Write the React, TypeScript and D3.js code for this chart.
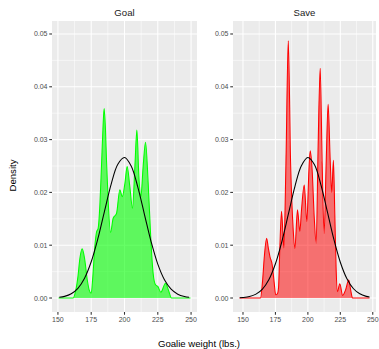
import { useEffect, useRef } from 'react';
import * as d3 from 'd3';

// facet labels
const facetNames = ['Goal', 'Save'];

// kernel density (weight in lbs, density)
const goalWeight = [150.5, 161.5, 163, 165, 166.5, 168.2, 170, 172, 173.5, 175, 176.2, 177.7, 179, 180.2, 181.5, 182.7, 183.8, 184.7, 185.7, 186.5, 187.7, 189.5, 191.5, 194, 196.5, 198.3, 200.3, 202, 204, 206, 207.8, 209.3, 210.8, 212.3, 214, 215.8, 217.8, 219.8, 221.5, 223.3, 225, 227.3, 230.8, 233, 235.3, 249.5];
const goalDensity = [0, 0, 0.001, 0.004, 0.0075, 0.0093, 0.0075, 0.0035, 0.0015, 0.0009, 0.004, 0.0097, 0.0125, 0.0132, 0.0176, 0.0249, 0.032, 0.0359, 0.032, 0.026, 0.0186, 0.0124, 0.0151, 0.016, 0.0205, 0.0192, 0.0217, 0.0249, 0.0211, 0.017, 0.0249, 0.0318, 0.023, 0.0192, 0.0249, 0.0295, 0.0217, 0.011, 0.0047, 0.0025, 0.0022, 0.0011, 0.0028, 0.0015, 0, 0];

const saveWeight = [147.3, 163.5, 165, 166.5, 168.2, 169.5, 170.8, 172.5, 174, 175.2, 176.5, 177.4, 178.4, 179.7, 181.5, 183.1, 184.9, 186.7, 188.7, 190, 192, 193.8, 195.1, 197.2, 199.2, 200.8, 201.8, 203.3, 204.9, 206.4, 207.9, 209.5, 211, 212.5, 214.1, 215.6, 217.2, 218.4, 219.7, 220.8, 221.8, 222.8, 224.6, 226.8, 229, 231.5, 233, 234.4, 247.5];
const saveDensity = [0, 0, 0.003, 0.008, 0.0113, 0.0095, 0.0078, 0.0063, 0.003, 0.0006, 0.0008, 0.002, 0.0095, 0.0164, 0.0095, 0.0255, 0.0487, 0.0255, 0.0129, 0.0094, 0.0167, 0.0126, 0.0167, 0.0214, 0.0145, 0.0242, 0.0279, 0.0242, 0.0153, 0.0104, 0.0287, 0.0435, 0.0255, 0.0122, 0.0255, 0.0367, 0.0261, 0.02, 0.0261, 0.0153, 0.0053, 0.0012, 0.0027, 0.0005, 0.0015, 0.0034, 0.0015, 0, 0];

// reference normal curve
const goalNormalX = [151, 155, 160, 165, 170, 175, 180, 185, 190, 195, 200, 205, 210, 215, 220, 225, 230, 235, 240, 245, 248.5];
const goalNormalY = [0.00014, 0.00031, 0.0008, 0.00183, 0.00375, 0.00686, 0.01123, 0.01646, 0.02158, 0.02533, 0.0266, 0.02499, 0.02101, 0.01581, 0.01065, 0.00641, 0.00346, 0.00167, 0.00072, 0.00028, 0.00013];
const saveNormalX = [147.5, 150, 155, 160, 165, 170, 175, 180, 185, 190, 195, 200, 205, 210, 215, 220, 225, 230, 235, 240, 245, 247.5];
const saveNormalY = [0.00006, 0.0001, 0.00028, 0.00073, 0.00169, 0.00351, 0.00649, 0.01074, 0.01592, 0.02111, 0.02505, 0.0266, 0.02527, 0.02149, 0.01635, 0.01113, 0.00678, 0.0037, 0.0018, 0.00079, 0.00031, 0.00018];

// axes
const xTicks = [150, 175, 200, 225, 250];
const xMinor = [162.5, 187.5, 212.5, 237.5];
const yTicks = [0, 0.01, 0.02, 0.03, 0.04, 0.05];
const yMinor = [0.005, 0.015, 0.025, 0.035, 0.045];
const goalXRange = [145.55, 254.45];
const saveXRange = [142.3, 252.5];
const yRange = [-0.00265, 0.05246];

const W = 379;
const H = 349;
const FONT = '"Liberation Sans", Arial, Helvetica, sans-serif';

const App = () => {
  const svgRef = useRef<SVGSVGElement>(null);

  useEffect(() => {
    const svg = d3.select(svgRef.current);
    svg.selectAll('*').remove();

    const top = 21;
    const bottom = 312;

    const facets = [
      { name: facetNames[0], left: 52, right: 197, domain: goalXRange, wx: goalWeight, dy: goalDensity, nx: goalNormalX, ny: goalNormalY, line: '#00FF00', fill: '#00FF00', alpha: 0.6 },
      { name: facetNames[1], left: 233, right: 376, domain: saveXRange, wx: saveWeight, dy: saveDensity, nx: saveNormalX, ny: saveNormalY, line: '#FF0000', fill: '#FF0000', alpha: 0.52 },
    ];

    const y = d3.scaleLinear().domain(yRange).range([bottom, top]);

    facets.forEach(f => {
      const x = d3.scaleLinear().domain(f.domain).range([f.left, f.right]);
      const g = svg.append('g');

      // panel background
      g.append('rect')
        .attr('x', f.left).attr('y', top)
        .attr('width', f.right - f.left).attr('height', bottom - top)
        .attr('fill', '#EBEBEB');

      // minor grid
      g.selectAll('.xminor').data(xMinor).enter().append('line')
        .attr('x1', d => x(d)).attr('x2', d => x(d))
        .attr('y1', top).attr('y2', bottom)
        .attr('stroke', '#fff').attr('stroke-width', 0.53);
      g.selectAll('.yminor').data(yMinor).enter().append('line')
        .attr('x1', f.left).attr('x2', f.right)
        .attr('y1', d => y(d)).attr('y2', d => y(d))
        .attr('stroke', '#fff').attr('stroke-width', 0.53);

      // major grid
      g.selectAll('.xmajor').data(xTicks).enter().append('line')
        .attr('x1', d => x(d)).attr('x2', d => x(d))
        .attr('y1', top).attr('y2', bottom)
        .attr('stroke', '#fff').attr('stroke-width', 1.07);
      g.selectAll('.ymajor').data(yTicks).enter().append('line')
        .attr('x1', f.left).attr('x2', f.right)
        .attr('y1', d => y(d)).attr('y2', d => y(d))
        .attr('stroke', '#fff').attr('stroke-width', 1.07);

      const pts = f.wx.map((w, i) => [w, f.dy[i]] as [number, number]);

      const area = d3.area<[number, number]>()
        .x(d => x(d[0]))
        .y0(y(0))
        .y1(d => y(d[1]))
        .curve(d3.curveMonotoneX);

      const line = d3.line<[number, number]>()
        .x(d => x(d[0]))
        .y(d => y(d[1]))
        .curve(d3.curveMonotoneX);

      g.append('path')
        .attr('d', area(pts))
        .attr('fill', f.fill)
        .attr('fill-opacity', f.alpha);

      g.append('path')
        .attr('d', line(pts))
        .attr('fill', 'none')
        .attr('stroke', f.line)
        .attr('stroke-width', 1.07);

      // normal curve
      const npts = f.nx.map((w, i) => [w, f.ny[i]] as [number, number]);
      g.append('path')
        .attr('d', d3.line<[number, number]>().x(d => x(d[0])).y(d => y(d[1])).curve(d3.curveCatmullRom)(npts))
        .attr('fill', 'none')
        .attr('stroke', '#000')
        .attr('stroke-width', 1.07);

      // strip title
      g.append('text')
        .attr('x', (f.left + f.right) / 2)
        .attr('y', 15.8)
        .attr('text-anchor', 'middle')
        .attr('font-family', FONT)
        .attr('font-size', 9.6)
        .attr('fill', '#1A1A1A')
        .text(f.name);

      // x axis ticks + labels
      g.selectAll('.xt').data(xTicks).enter().append('line')
        .attr('x1', d => x(d)).attr('x2', d => x(d))
        .attr('y1', bottom).attr('y2', bottom + 2.75)
        .attr('stroke', '#333').attr('stroke-width', 1.07);
      g.selectAll('.xl').data(xTicks).enter().append('text')
        .attr('x', d => x(d))
        .attr('y', bottom + 9.8)
        .attr('text-anchor', 'middle')
        .attr('font-family', FONT)
        .attr('font-size', 7)
        .attr('fill', '#4D4D4D')
        .text(d => d);

      // y axis ticks + labels
      g.selectAll('.yt').data(yTicks).enter().append('line')
        .attr('x1', f.left - 2.75).attr('x2', f.left)
        .attr('y1', d => y(d)).attr('y2', d => y(d))
        .attr('stroke', '#333').attr('stroke-width', 1.07);
      g.selectAll('.yl').data(yTicks).enter().append('text')
        .attr('x', f.left - 4.5)
        .attr('y', d => y(d) + 2.5)
        .attr('text-anchor', 'end')
        .attr('font-family', FONT)
        .attr('font-size', 7)
        .attr('fill', '#4D4D4D')
        .text(d => d3.format('.2f')(d));
    });

    // axis titles
    svg.append('text')
      .attr('x', 199)
      .attr('y', 346.5)
      .attr('text-anchor', 'middle')
      .attr('font-family', FONT)
      .attr('font-size', 9.6)
      .attr('fill', '#000')
      .text('Goalie weight (lbs.)');

    svg.append('text')
      .attr('transform', 'translate(15.5,175.5) rotate(-90)')
      .attr('text-anchor', 'middle')
      .attr('font-family', FONT)
      .attr('font-size', 9.6)
      .attr('fill', '#000')
      .text('Density');
  }, []);

  return (
    <svg
      ref={svgRef}
      width={W}
      height={H}
      style={{ position: 'absolute', left: 0, top: 0, background: '#fff' }}
    />
  );
};

export default App;
